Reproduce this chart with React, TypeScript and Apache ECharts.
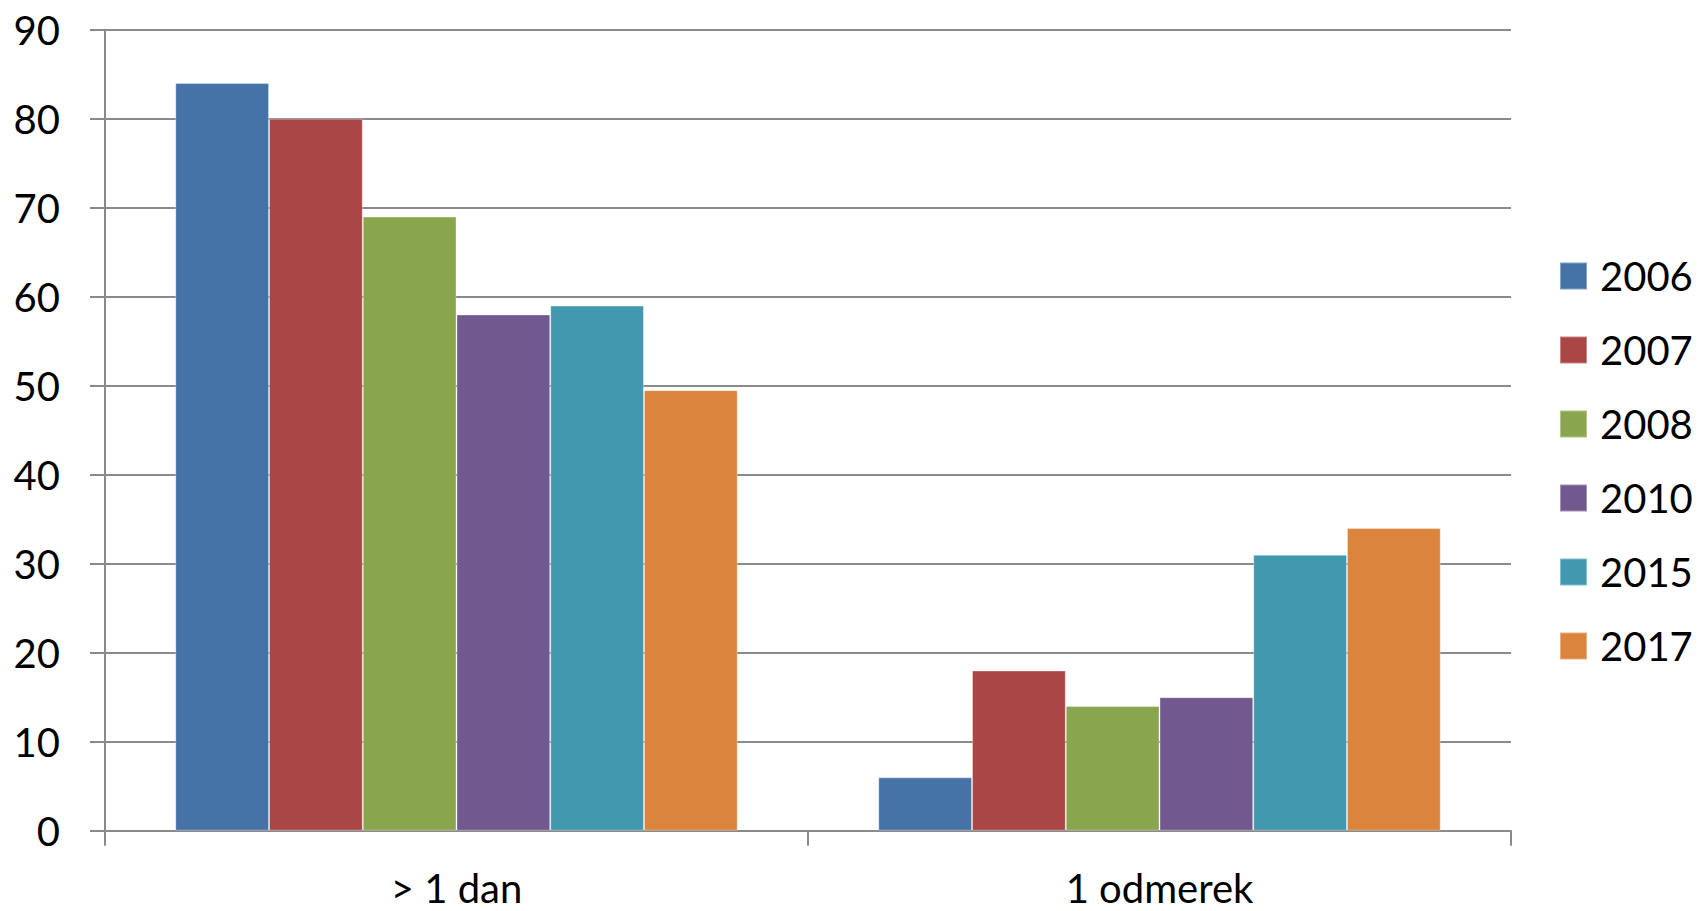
import React, { useEffect, useRef } from "react";
import * as echarts from "echarts";

const categories = ["> 1 dan", "1 odmerek"];
const seriesNames = ["2006", "2007", "2008", "2010", "2015", "2017"];
const values2006 = [84, 6];
const values2007 = [80, 18];
const values2008 = [69, 14];
const values2010 = [58, 15];
const values2015 = [59, 31];
const values2017 = [49.5, 34];
const colors = ["#4572A7", "#AA4643", "#89A54E", "#71588F", "#4198AF", "#DB843D"];
const yTicks = { min: 0, max: 90, interval: 10 };

const FONT = "Lato";
const GRAY = "#8a8a8a";

export default function App() {
  const ref = useRef<HTMLDivElement>(null);
  useEffect(() => {
    if (!ref.current) return;
    const chart = echarts.init(ref.current, null, { renderer: "svg" });
    const allValues = [values2006, values2007, values2008, values2010, values2015, values2017];
    chart.setOption({
      animation: false,
      backgroundColor: "#ffffff",
      color: colors,
      textStyle: { fontFamily: FONT },
      grid: { left: 105, right: 189, top: 29.7, bottom: 80.3, containLabel: false },
      legend: {
        orient: "vertical",
        left: 1554,
        top: 251,
        padding: 5,
        itemWidth: 27,
        itemHeight: 27,
        itemGap: 34,
        icon: "rect",
        data: seriesNames,
        textStyle: {
          fontFamily: FONT,
          fontSize: 40,
          lineHeight: 40,
          color: "#000",
          padding: [0, 0, 0, 8],
        },
      },
      xAxis: {
        type: "category",
        data: categories,
        axisLine: { show: true, lineStyle: { color: GRAY, width: 2 } },
        axisTick: { show: true, length: 15, lineStyle: { color: GRAY, width: 2 } },
        axisLabel: { fontFamily: FONT, fontSize: 40, lineHeight: 40, color: "#000", margin: 37 },
        splitLine: { show: false },
      },
      yAxis: {
        type: "value",
        min: yTicks.min,
        max: yTicks.max,
        interval: yTicks.interval,
        axisLine: { show: true, lineStyle: { color: GRAY, width: 2 } },
        axisTick: { show: true, length: 15, lineStyle: { color: GRAY, width: 2 } },
        axisLabel: { fontFamily: FONT, fontSize: 40, color: "#000", margin: 45 },
        splitLine: { show: true, lineStyle: { color: GRAY, width: 2 } },
      },
      series: seriesNames.map((name, i) => ({
        name,
        type: "bar",
        data: allValues[i],
        barGap: "0%",
        barCategoryGap: "20%",
        itemStyle: { color: colors[i], borderColor: "rgba(255,255,255,0.35)", borderWidth: 1 },
      })),
    });
    return () => chart.dispose();
  }, []);
  return (
    <div
      ref={ref}
      style={{ position: "fixed", left: 0, top: 0, width: 1700, height: 911, background: "#fff" }}
    />
  );
}
